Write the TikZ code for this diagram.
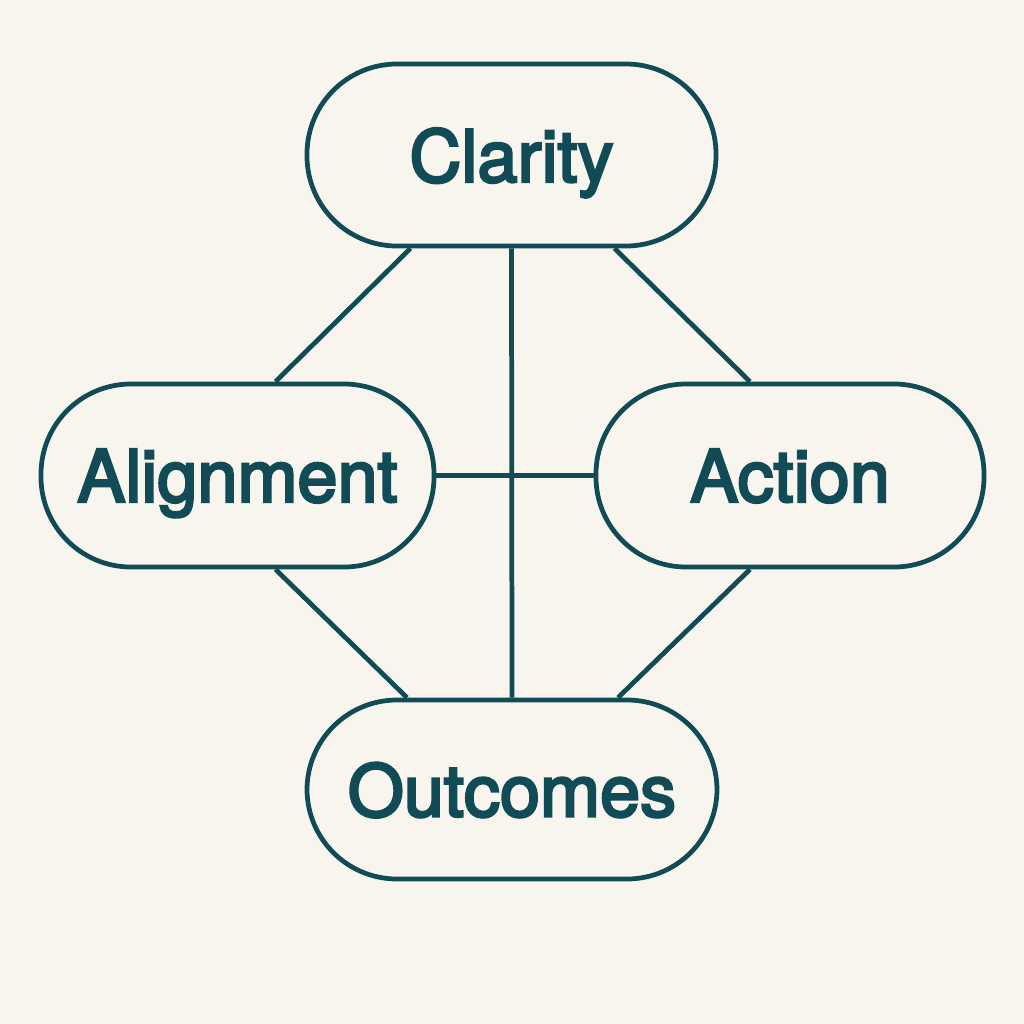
\documentclass[tikz,border=0pt]{standalone}
\usepackage{fontspec}
\newfontfamily\lblfont{TeX Gyre Heros}[FakeBold=3.5]
\usetikzlibrary{calc}
\definecolor{bg}{HTML}{F8F4EE}
\definecolor{ink}{HTML}{114B56}
\tikzset{
  pill/.style={draw=ink, line width=1.35pt, rounded corners=0.9cm, minimum height=1.82cm,
    inner sep=0pt, text depth=0pt, text=ink, font=\lblfont\fontsize{20.5}{24}\selectfont},
  link/.style={draw=ink, line width=1.35pt}
}
\begin{document}
\begin{tikzpicture}
\fill[bg] (0,0) rectangle (10.24,-10.24);
\useasboundingbox (0,0) rectangle (10.24,-10.24);
\node[pill, minimum width=4.09cm] (clar) at (5.115,-1.55) {Clarity};
\node[pill, minimum width=3.93cm, minimum height=1.83cm] (al) at (2.375,-4.755) {Alignment};
\node[pill, minimum width=3.88cm, minimum height=1.83cm] (ac) at (7.90,-4.755) {Action};
\node[pill, minimum width=4.10cm, minimum height=1.79cm] (out) at (5.12,-7.895) {Outcomes};
\draw[link] ($(clar.south)+(-1.01,0)$) -- ($(al.north)+(0.38,0)$);
\draw[link] ($(clar.south)+(1.03,0)$) -- ($(ac.north)+(-0.40,0)$);
\draw[link] (clar.south) -- (out.north);
\draw[link] (al.east) -- (ac.west);
\draw[link] ($(al.south)+(0.38,0)$) -- ($(out.north)+(-1.05,0)$);
\draw[link] ($(ac.south)+(-0.40,0)$) -- ($(out.north)+(1.06,0)$);
\end{tikzpicture}
\end{document}
